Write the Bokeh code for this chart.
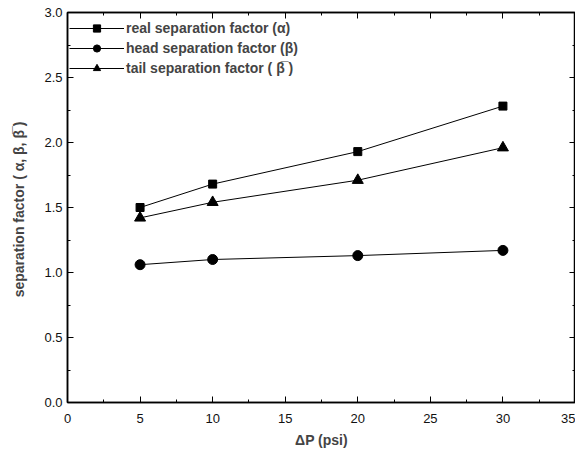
from bokeh.plotting import figure
from bokeh.models import SingleIntervalTicker, Range1d, LinearAxis, PrintfTickFormatter, CustomJSTickFormatter
from bokeh.embed import file_html
from bokeh.resources import INLINE

dp = [5, 10, 20, 30]
real_alpha = [1.50, 1.68, 1.93, 2.28]
head_beta = [1.06, 1.10, 1.13, 1.17]
tail_beta = [1.42, 1.54, 1.71, 1.96]

FONT = "Liberation Sans"

p = figure(width=575, height=455, output_backend="svg", toolbar_location=None,
           x_range=Range1d(0, 35), y_range=Range1d(0, 3.0),
           min_border_left=67, min_border_right=0, min_border_top=12, min_border_bottom=53)
p.grid.visible = False
p.outline_line_color = "black"
p.outline_line_width = 1.5

p.xaxis.ticker = SingleIntervalTicker(interval=5, num_minor_ticks=2)
p.yaxis.ticker = SingleIntervalTicker(interval=0.5, num_minor_ticks=2)
p.yaxis.formatter = PrintfTickFormatter(format="%.1f")

for ax in (p.xaxis, p.yaxis):
    ax.major_tick_in = 6
    ax.major_tick_out = 0
    ax.minor_tick_in = 3
    ax.minor_tick_out = 0
    ax.axis_line_width = 1.5
    ax.major_label_text_font = FONT
    ax.major_label_text_font_size = "13px"
    ax.major_label_text_color = "#111111"
    ax.axis_label_text_font = FONT
    ax.axis_label_text_font_size = "14px"
    ax.axis_label_text_font_style = "bold"

p.xaxis.axis_label = "ΔP (psi)"
p.yaxis.axis_label = "separation factor (  α, β, β\u0305 )"
p.xaxis.major_label_standoff = 11
p.xaxis.axis_label_standoff = 6
p.yaxis.axis_label_standoff = 14

for loc in ("above", "right"):
    ax = LinearAxis(major_tick_in=6, major_tick_out=0,
                    minor_tick_in=3, minor_tick_out=0, axis_line_width=1.5,
                    formatter=CustomJSTickFormatter(code="return ''"),
                    major_label_standoff=0)
    if loc == "above":
        ax.ticker = SingleIntervalTicker(interval=5, num_minor_ticks=2)
    else:
        ax.ticker = SingleIntervalTicker(interval=0.5, num_minor_ticks=2)
    p.add_layout(ax, loc)

lbl1 = "real separation factor (α)"
lbl2 = "head separation factor (β)"
lbl3 = "tail separation factor ( β\u0305 )"

p.line(dp, real_alpha, color="black", line_width=1, legend_label=lbl1)
p.scatter(dp, real_alpha, marker="square", size=8, color="black", legend_label=lbl1)
p.line(dp, head_beta, color="black", line_width=1, legend_label=lbl2)
p.scatter(dp, head_beta, marker="circle", size=10, color="black", legend_label=lbl2)
p.line(dp, tail_beta, color="black", line_width=1, legend_label=lbl3)
p.scatter(dp, tail_beta, marker="triangle", size=11, color="black", legend_label=lbl3)

lg = p.legend[0]
lg.location = (2, 325)
lg.border_line_color = None
lg.background_fill_alpha = 0
lg.label_text_font = FONT
lg.label_text_font_size = "14px"
lg.label_text_font_style = "bold"
lg.glyph_width = 55
lg.label_standoff = 2
lg.spacing = 2
lg.label_height = 18
lg.glyph_height = 18
lg.margin = 0
lg.padding = 0

open("out.html", "w").write(file_html(p, INLINE))
